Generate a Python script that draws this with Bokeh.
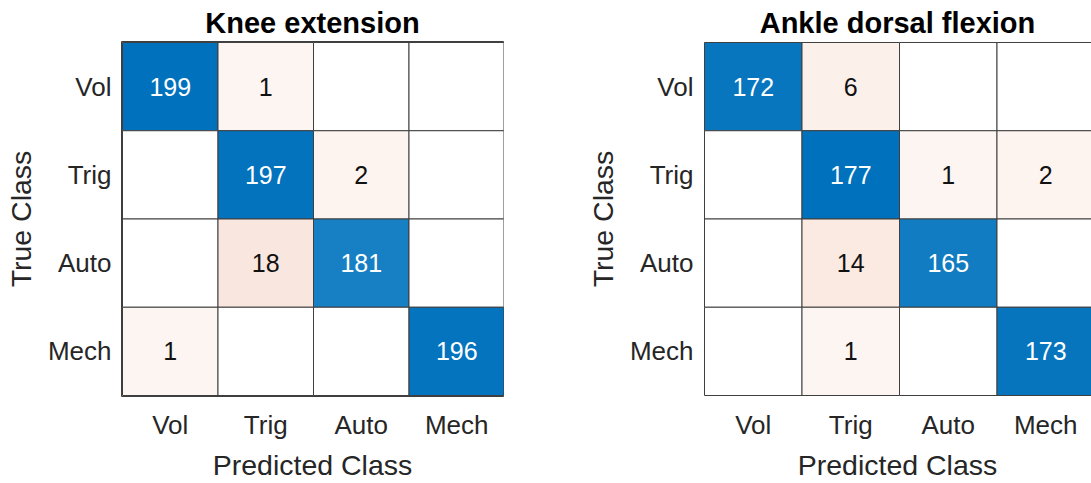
from bokeh.plotting import figure
from bokeh.layouts import row
from bokeh.models import Range1d, FixedTicker, ColumnDataSource
from bokeh.core.properties import value
from bokeh.embed import file_html
from bokeh.resources import INLINE

classes = ["Vol", "Trig", "Auto", "Mech"]
knee_title = "Knee extension"
knee = [[199, 1, 0, 0],
        [0, 197, 2, 0],
        [0, 18, 181, 0],
        [1, 0, 0, 196]]
ankle_title = "Ankle dorsal flexion"
ankle = [[172, 6, 0, 0],
         [0, 177, 1, 2],
         [0, 14, 165, 0],
         [0, 1, 0, 173]]
x_label = "Predicted Class"
y_label = "True Class"

FONT = "Liberation Sans"
BLUE = (0, 114, 189)
ORANGE = (217, 83, 25)
GRID = "#3f3f3f"
TXT = "#262626"

FIG_H = 483
TOP = 41
BOTTOM = 87
FRAME_H = FIG_H - TOP - BOTTOM


def mix(c, t):
    r = [round(255 * (1 - t) + ch * t) for ch in c]
    return "#%02x%02x%02x" % tuple(r)


def build(title, mat, width, min_left, min_right, cell_px, outline):
    n = len(classes)
    frame_w = width - min_left - min_right
    vmax = max(max(r) for r in mat)
    xs, ys, fills, tx, ty, tt, tc = [], [], [], [], [], [], []
    for i in range(n):
        for j in range(n):
            v = mat[i][j]
            xs.append(j + 0.5)
            ys.append(i + 0.5)
            if v == 0:
                fills.append("#ffffff")
            elif i == j:
                fills.append(mix(BLUE, v / vmax))
            else:
                fills.append(mix(ORANGE, 0.06 + 0.005 * (v - 1)))
            if v != 0:
                tx.append(j + 0.5)
                ty.append(i + 0.5)
                tt.append(str(v))
                tc.append("#ffffff" if i == j else "#111111")
    padx = 1.0 / cell_px
    xend = frame_w / cell_px - padx
    pady = 1.0 / (FRAME_H / n)

    p = figure(width=width, height=FIG_H,
               x_range=Range1d(-padx, xend), y_range=Range1d(n + pady, -pady),
               output_backend="svg", toolbar_location=None,
               min_border_left=min_left, min_border_right=min_right,
               min_border_top=TOP, min_border_bottom=BOTTOM,
               title=title)
    p.title.text_font = FONT
    p.title.text_font_size = "29px"
    p.title.text_font_style = "bold"
    p.title.text_color = "#000000"
    p.title.align = "center"
    p.title.standoff = 6
    p.outline_line_color = GRID if outline else None
    p.grid.visible = False
    p.background_fill_color = "#ffffff"
    p.border_fill_color = "#ffffff"

    src = ColumnDataSource(dict(x=xs, y=ys, c=fills))
    p.rect(x="x", y="y", width=1, height=1, source=src, fill_color="c",
           line_color=GRID, line_width=1)
    tsrc = ColumnDataSource(dict(x=tx, y=ty, t=tt, c=tc))
    p.text(x="x", y="y", text="t", source=tsrc, text_color="c",
           text_align="center", text_baseline="middle",
           text_font=value(FONT), text_font_size="25px")

    ticks = [k + 0.5 for k in range(n)]
    labels = {k + 0.5: classes[k] for k in range(n)}
    for ax in (p.xaxis[0], p.yaxis[0]):
        ax.ticker = FixedTicker(ticks=ticks)
        ax.major_label_overrides = labels
        ax.major_tick_line_color = None
        ax.minor_tick_line_color = None
        ax.major_tick_out = 0
        ax.major_tick_in = 0
        ax.axis_line_color = None
        ax.major_label_text_font = FONT
        ax.major_label_text_font_size = "26px"
        ax.major_label_text_color = TXT
        ax.axis_label_text_font = FONT
        ax.axis_label_text_font_size = "28.5px"
        ax.axis_label_text_font_style = "normal"
        ax.axis_label_text_color = TXT
    p.xaxis.axis_label = x_label
    p.yaxis.axis_label = y_label
    p.xaxis.major_label_standoff = 13
    p.xaxis.axis_label_standoff = 6
    p.yaxis.major_label_standoff = 10
    p.yaxis.axis_label_standoff = 8
    p.yaxis.major_label_orientation = "horizontal"
    return p


p1 = build(knee_title, knee, 560, 121, 57, 95.5, True)
p2 = build(ankle_title, ankle, 531, 143, 0, 97.5, False)

layout = row(p1, p2)
open("out.html", "w").write(file_html(layout, INLINE))
